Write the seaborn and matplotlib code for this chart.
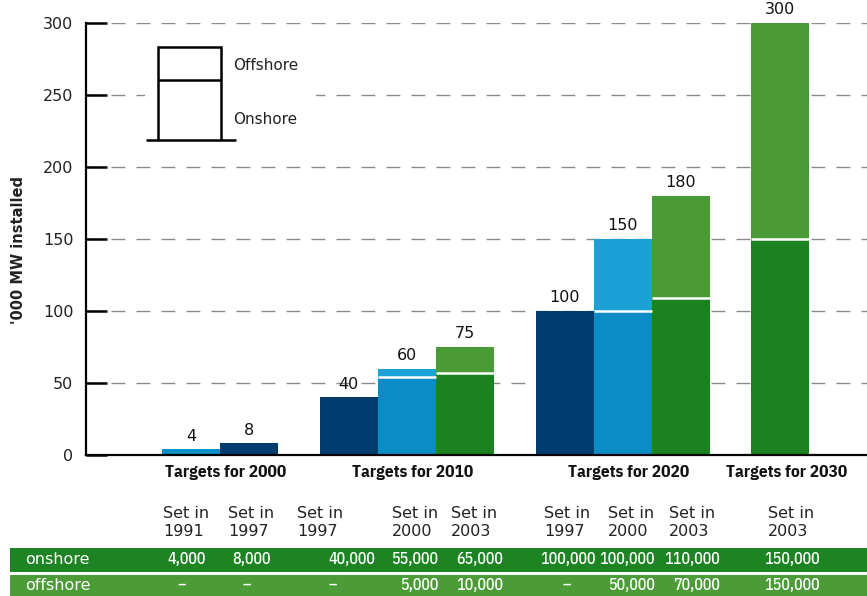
import numpy as np
import pandas as pd
import matplotlib
matplotlib.use("Agg")
import matplotlib.pyplot as plt
from matplotlib.lines import Line2D
from matplotlib.patches import Rectangle
from matplotlib import font_manager
import seaborn as sns

# data
groups = ["Targets for 2000", "Targets for 2010", "Targets for 2020", "Targets for 2030"]
group_sizes = [2, 3, 3, 1]
set_years = ["1991", "1997", "1997", "2000", "2003", "1997", "2000", "2003", "2003"]
# bar heights as drawn in the picture ('000 MW)
onshore = [4, 8, 40, 54, 57, 100, 100, 109, 150]
totals = [4, 8, 40, 60, 75, 100, 150, 180, 300]
# table rows as printed
onshore_txt = ["4,000", "8,000", "40,000", "55,000", "65,000", "100,000", "100,000", "110,000", "150,000"]
offshore_txt = ["–", "–", "–", "5,000", "10,000", "–", "50,000", "70,000", "150,000"]

on_colors = {"1991": "#0d8fc8", "1997": "#003d6e", "2000": "#0a8cc6", "2003": "#1a821f"}
off_colors = {"1991": "#1aa1d5", "1997": "#003d6e", "2000": "#1aa1d5", "2003": "#4a9a35"}

W, H = 867, 596


def px(x, y):
    return x / W, 1 - y / H


def font_ok(name):
    return any(f.name == name for f in font_manager.fontManager.ttflist)


if font_ok("IBM Plex Sans Condensed"):
    narrow, narrow_stretch = "IBM Plex Sans Condensed", "normal"
elif font_ok("Liberation Sans Narrow"):
    narrow, narrow_stretch = "Liberation Sans Narrow", "normal"
else:
    narrow, narrow_stretch = "DejaVu Sans", "condensed"

# bar positions: groups with a gap between them
gap = 0.72
pos = []
start = 0.0
for n in group_sizes:
    pos += [start + i for i in range(n)]
    start += n + gap
group_centers = []
k = 0
for n in group_sizes:
    group_centers.append(np.mean(pos[k:k + n]))
    k += n

df = pd.DataFrame({
    "pos": pos,
    "bar": ["b%d" % i for i in range(len(pos))],
    "year": set_years,
    "onshore": onshore,
    "total": totals,
})
df["offshore"] = df["total"] - df["onshore"]

sns.set_theme(style="white")
plt.rcParams["font.family"] = ["DejaVu Sans"]

fig = plt.figure(figsize=(W / 100, H / 100), dpi=100)
ax = fig.add_axes([86 / W, 1 - 455 / H, 1 - 86 / W, (455 - 23) / H])

off_pal = {b: off_colors[y] for b, y in zip(df["bar"], df["year"])}
on_pal = {b: on_colors[y] for b, y in zip(df["bar"], df["year"])}

sns.barplot(data=df, x="pos", y="total", hue="bar", palette=off_pal, native_scale=True,
            width=1.0, dodge=False, legend=False, saturation=1, errorbar=None,
            linewidth=0, ax=ax, zorder=2)
sns.barplot(data=df, x="pos", y="onshore", hue="bar", palette=on_pal, native_scale=True,
            width=1.0, dodge=False, legend=False, saturation=1, errorbar=None,
            linewidth=0, ax=ax, zorder=3)

# white separator between onshore and offshore
sep = df[df["offshore"] > 0]
ax.hlines(sep["onshore"], sep["pos"] - 0.5, sep["pos"] + 0.5, color="white", lw=1.8, zorder=4)

# totals above bars
for p, t in zip(df["pos"], df["total"]):
    ax.annotate(str(t), (p, t), xytext=(0, 4), textcoords="offset points",
                ha="center", va="bottom", fontsize=11.5, color="#111111", zorder=5,
                annotation_clip=False)

ax.set_xlim((86 - 191) / 58, (867 - 191) / 58)
ax.set_ylim(0, 300)
ax.set_yticks([0, 50, 100, 150, 200, 250, 300])
ax.set_xticks([])
ax.set_xlabel("")
ax.set_ylabel("")
ax.yaxis.grid(True, color="#8a8a8a", lw=1.0, ls=(0, (10, 8)), zorder=0)
ax.set_axisbelow(True)
ax.tick_params(axis="y", direction="in", length=15, width=1.8, color="black", pad=9,
               labelsize=11.5, labelcolor="#222222", left=True)
for s in ["top", "right"]:
    ax.spines[s].set_visible(False)
for s in ["left", "bottom"]:
    ax.spines[s].set_color("black")
    ax.spines[s].set_linewidth(1.6)
    ax.spines[s].set_zorder(6)

# legend sketch
ax.add_patch(Rectangle((0.075, 0.72), 0.22, 0.25, transform=ax.transAxes,
                       facecolor="white", edgecolor="none", zorder=1))
lw = 1.8
for xs, ys in [([158, 158, 221, 221], [140, 47, 47, 140]),
               ([158, 221], [80, 80]),
               ([146, 236], [140, 140])]:
    fx = [x / W for x in xs]
    fy = [1 - y / H for y in ys]
    fig.add_artist(Line2D(fx, fy, color="black", lw=lw, transform=fig.transFigure,
                          solid_capstyle="butt", solid_joinstyle="miter"))
fig.text(*px(233, 66), "Offshore", fontsize=11, va="center", ha="left", color="#222222")
fig.text(*px(233, 119), "Onshore", fontsize=11, va="center", ha="left", color="#222222")

# y label
fig.text(*px(19, 250), "'000 MW installed", rotation=90, fontsize=10.5, fontweight="bold",
         ha="center", va="center", color="#222222")

# group labels
for gx, g in zip(group_centers, groups):
    fig.text((191 + 58 * gx + 6) / W, 1 - 472 / H, g, fontsize=12.5, fontweight="bold",
             family=[narrow, "DejaVu Sans"], fontstretch=narrow_stretch,
             ha="center", va="center", color="#111111")

# table
fig.patches.append(Rectangle(px(10, 572), (W - 10) / W, 24 / H, transform=fig.transFigure,
                             facecolor="#1e8423", edgecolor="none"))
fig.patches.append(Rectangle(px(10, 600), (W - 10) / W, 25 / H, transform=fig.transFigure,
                             facecolor="#4b9b36", edgecolor="none"))
fig.text(*px(25, 560), "onshore", fontsize=11.5, va="center", ha="left", color="white")
fig.text(*px(25, 585), "offshore", fontsize=11.5, va="center", ha="left", color="white")

label_left = [163, 228, 297, 392, 451, 544, 608, 669, 768]
num_right = [206, 271, 375, 438, 503, 596, 655, 720, 820]
num_font = dict(fontsize=11.5, fontweight="medium", color="white", va="center",
                family=[narrow, "DejaVu Sans"], fontstretch=narrow_stretch)
for lx, rx, yr, on_t, off_t in zip(label_left, num_right, set_years, onshore_txt, offshore_txt):
    fig.text(*px(lx, 523), "Set in\n" + yr, fontsize=11.5, va="center", ha="left",
             color="#222222", linespacing=1.25)
    fig.text(*px(rx, 559), on_t, ha="right", **num_font)
    if off_t == "–":
        fig.text(*px((lx + rx) / 2 - 3, 585), off_t, ha="center", **num_font)
    else:
        fig.text(*px(rx, 585), off_t, ha="right", **num_font)

fig.savefig("out.png", dpi=100)
